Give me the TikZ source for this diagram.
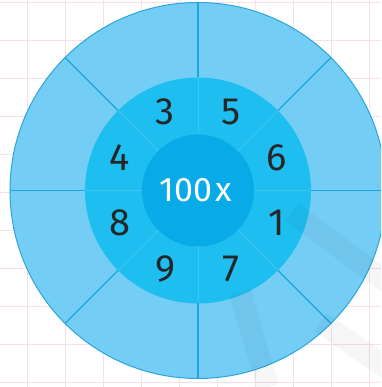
\documentclass[tikz,border=0pt]{standalone}
\usepackage{fontspec}
\usetikzlibrary{calc}
\newfontfamily\digitfont{Fira Sans}
\definecolor{gridc}{HTML}{F6E0E5}
\definecolor{outerc}{HTML}{74CDF4}
\definecolor{midc}{HTML}{1EBEF0}
\definecolor{innerc}{HTML}{08AAE8}
\definecolor{edgec}{HTML}{2AA6DA}
\definecolor{spokec}{HTML}{1AA8DC}
\definecolor{faintc}{HTML}{40C5F2}
\tikzset{
  gridline/.style={gridc, line width=0.7pt},
  disc/.style={circle, inner sep=0pt, outer sep=0pt},
  spoke/.style={spokec, line width=1.1pt},
  faint/.style={faintc, line width=0.8pt},
  digit/.style={font=\digitfont\fontsize{38}{38}\selectfont, text=black!85, inner sep=0pt},
  mark band/.style={black, opacity=0.035, line width=22pt},
}
\begin{document}
\begin{tikzpicture}[x=1pt,y=1pt]
\useasboundingbox (0,0) rectangle (381,387);
\clip (0,0) rectangle (381,387);
\fill[white] (0,0) rectangle (381,387);
\foreach \x in {27,65,...,370} \draw[gridline] (\x,0) -- (\x,387);
\foreach \y in {5,43,...,386} \draw[gridline] (0,\y) -- (381,\y);
\node[disc, minimum size=376pt, fill=outerc, draw=edgec, line width=1pt] (outer) at (198,196.5) {};
\node[disc, minimum size=226pt, fill=midc] (mid) at (outer.center) {};
\node[disc, minimum size=112pt, fill=innerc] (inner) at (outer.center) {};
\foreach \a in {0,45,...,315} {
  \draw[spoke] (outer.center) ++(\a:113) -- ++(\a:75);
  \draw[faint] (outer.center) ++(\a:56) -- ++(\a:57);
}
\draw[mark band] (240,95) -- (268,0);
\draw[mark band] (292,175) -- (400,95);
\draw[mark band] (320,65) -- (400,10);
\node[digit] (n3) at ($(outer.center)+(112.5:85)$) {3};
\node[digit] (n5) at ($(outer.center)+(67.5:85)$) {5};
\node[digit] (n6) at ($(outer.center)+(22.5:85)$) {6};
\node[digit] (n1) at ($(outer.center)+(-22.5:85)$) {1};
\node[digit] (n7) at ($(outer.center)+(-67.5:85)$) {7};
\node[digit] (n9) at ($(outer.center)+(-112.5:85)$) {9};
\node[digit] (n8) at ($(outer.center)+(-157.5:85)$) {8};
\node[digit] (n4) at ($(outer.center)+(157.5:85)$) {4};
\node[digit, text=white, font=\digitfont\fontsize{34}{34}\selectfont] (label) at (196,197) {100\kern3pt x};
\end{tikzpicture}
\end{document}
